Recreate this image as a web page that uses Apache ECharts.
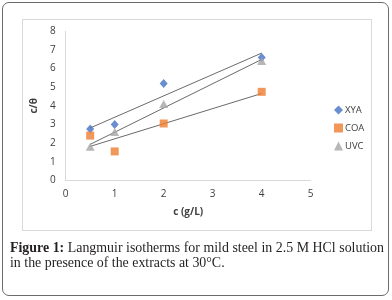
<!DOCTYPE html>
<html>
<head>
<meta charset="utf-8">
<script src="https://cdn.jsdelivr.net/npm/echarts@6/dist/echarts.min.js"></script>
<style>
    html, body { margin: 0; padding: 0; background: #fff; }
    #wrap { position: relative; width: 392px; height: 300px; overflow: hidden; }
    #frame {
        position: absolute; left: 2px; top: 2px; width: 385px; height: 292px;
        border: 1.5px solid #6b6b6b; border-radius: 7px; box-sizing: content-box;
    }
    #box {
        position: absolute; left: 22px; top: 19px; width: 348px; height: 210px;
        border: 1px solid #d9d9d9;
    }
    #main { position: absolute; left: 0; top: 0; width: 392px; height: 300px; }
    #caption {
        position: absolute; left: 10px; top: 240px; width: 374px;
        font-family: 'Liberation Serif', 'DejaVu Serif', serif; font-size: 13.9px;
        line-height: 15px; color: #231f20; text-align: justify; text-align-last: left;
    }
</style>
</head>
<body>
<div id="wrap">
    <div id="frame"></div>
    <div id="box"></div>
    <div id="main"></div>
    <div id="caption"><b>Figure 1:</b> Langmuir isotherms for mild steel in 2.5 M HCl solution in the presence of the extracts at 30°C.</div>
</div>
<script>
// concentrations (g/L)
var conc = [0.5, 1, 2, 4];
// c/theta values
var xya = [2.75, 3.0, 5.2, 6.6];
var coa = [2.4, 1.55, 3.05, 4.75];
var uvc = [1.8, 2.6, 4.1, 6.4];
// linear trend line end points
var trendX = [0.5, 4];
var xyaTrend = [2.81, 6.83];
var coaTrend = [1.82, 4.66];
var uvcTrend = [1.93, 6.49];

function pairs(xs, ys) {
    return xs.map(function (x, i) { return [x, ys[i]]; });
}

var chartDom = document.getElementById('main');
var myChart = echarts.init(chartDom, null, { renderer: 'canvas' });

var labelFont = { fontFamily: 'Open Sans, Noto Sans, sans-serif', fontSize: 10, color: '#404040' };
var trendStyle = { color: '#595959', width: 0.9 };

function trend(ys) {
    return {
        type: 'line',
        data: pairs(trendX, ys),
        symbol: 'none',
        lineStyle: trendStyle,
        silent: true,
        z: 1
    };
}

var option = {
    animation: false,
    grid: { left: 65.7, right: 81.3, top: 31.3, bottom: 119.7 },
    legend: {
        orient: 'vertical',
        left: 329,
        top: 100,
        itemGap: 8,
        itemWidth: 9,
        itemHeight: 9,
        textStyle: { fontFamily: 'Open Sans, Noto Sans, sans-serif', fontSize: 9.5, color: '#404040', padding: [0, 0, 0, -3] },
        data: ['XYA', 'COA', 'UVC']
    },
    xAxis: {
        type: 'value',
        min: 0, max: 5, interval: 1,
        name: 'c (g/L)',
        nameLocation: 'middle',
        nameGap: 27,
        nameTextStyle: { fontFamily: 'Open Sans, Noto Sans, sans-serif', fontSize: 10, fontWeight: 'bold', color: '#404040' },
        axisLine: { lineStyle: { color: '#d9d9d9' } },
        axisTick: { show: false },
        splitLine: { show: false },
        axisLabel: Object.assign({ margin: 9 }, labelFont)
    },
    yAxis: {
        type: 'value',
        min: 0, max: 8, interval: 1,
        name: 'c/θ',
        nameLocation: 'middle',
        nameGap: 22,
        nameTextStyle: { fontFamily: 'Open Sans, Noto Sans, sans-serif', fontSize: 10, fontWeight: 'bold', color: '#404040' },
        axisLine: { show: true, lineStyle: { color: '#d9d9d9' } },
        axisTick: { show: false },
        splitLine: { show: false },
        axisLabel: Object.assign({ margin: 10 }, labelFont)
    },
    series: [
        { name: 'XYA', type: 'scatter', data: pairs(conc, xya), symbol: 'diamond', symbolSize: [8, 9], itemStyle: { color: '#4472c4' }, z: 3 },
        { name: 'COA', type: 'scatter', data: pairs(conc, coa), symbol: 'rect', symbolSize: 8, itemStyle: { color: '#ed7d31' }, z: 3 },
        { name: 'UVC', type: 'scatter', data: pairs(conc, uvc), symbol: 'triangle', symbolSize: [9, 8], itemStyle: { color: '#a5a5a5' }, z: 3 },
        trend(xyaTrend),
        trend(coaTrend),
        trend(uvcTrend)
    ]
};

option && myChart.setOption(option);
</script>
</body>
</html>
